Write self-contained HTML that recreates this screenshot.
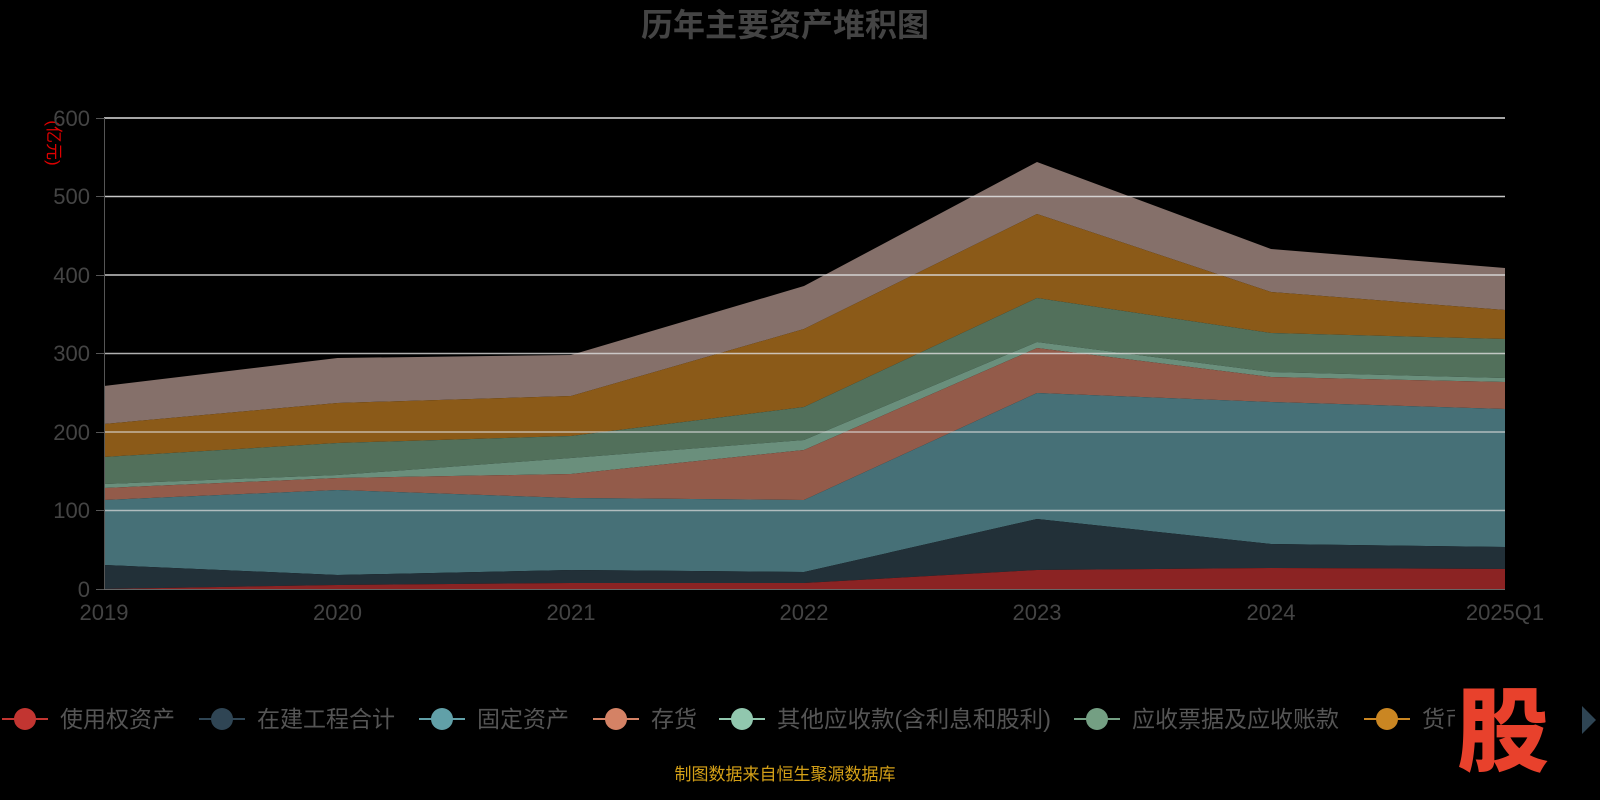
<!DOCTYPE html>
<html><head><meta charset="utf-8"><style>
html,body{margin:0;padding:0;background:#000;}
svg{display:block;font-family:"Liberation Sans","Noto Sans CJK SC",sans-serif;}
</style></head><body>
<svg width="1600" height="800" viewBox="0 0 1600 800">
<rect width="1600" height="800" fill="#000"/>
<text x="785" y="36" text-anchor="middle" font-size="32" font-weight="bold" fill="#444">历年主要资产堆积图</text>
<text x="48" y="143" font-size="17" fill="#d00" transform="rotate(90 48 143)" text-anchor="middle">(亿元)</text>
<g>
<polygon fill="#85706A" points="104,386 337.5,358 571,355 804,286 1037,162 1271,249 1505,268 1505,310 1271,292 1037,214 804,329 571,396 337.5,403 104,424"/>
<polygon fill="#8B5A18" points="104,424 337.5,403 571,396 804,329 1037,214 1271,292 1505,310 1505,339 1271,333 1037,298 804,407 571,436 337.5,443 104,457"/>
<polygon fill="#52705B" points="104,457 337.5,443 571,436 804,407 1037,298 1271,333 1505,339 1505,378 1271,372 1037,342 804,440 571,458 337.5,475 104,484"/>
<polygon fill="#6A8F7C" points="104,484 337.5,475 571,458 804,440 1037,342 1271,372 1505,378 1505,382 1271,377 1037,348 804,450 571,474 337.5,478 104,488"/>
<polygon fill="#935B4A" points="104,488 337.5,478 571,474 804,450 1037,348 1271,377 1505,382 1505,409 1271,402 1037,393 804,500 571,498 337.5,490 104,500"/>
<polygon fill="#467077" points="104,500 337.5,490 571,498 804,500 1037,393 1271,402 1505,409 1505,547 1271,544 1037,519 804,572 571,570 337.5,575 104,565"/>
<polygon fill="#223038" points="104,565 337.5,575 571,570 804,572 1037,519 1271,544 1505,547 1505,569 1271,568 1037,570 804,583 571,583 337.5,585 104,589"/>
<polygon fill="#8B2323" points="104,589 337.5,585 571,583 804,583 1037,570 1271,568 1505,569 1505,589 104,589"/>
</g>
<g stroke="#ddd" stroke-width="1.5">
<line x1="104" y1="118" x2="1505" y2="118"/>
<line x1="104" y1="196.5" x2="1505" y2="196.5" opacity="0.9"/>
<line x1="104" y1="275" x2="1505" y2="275" opacity="0.9"/>
<line x1="104" y1="353.5" x2="1505" y2="353.5" opacity="0.8"/>
<line x1="104" y1="432" x2="1505" y2="432" opacity="0.7"/>
<line x1="104" y1="510.5" x2="1505" y2="510.5" opacity="0.7"/>
</g>
<g stroke="#555" stroke-width="1">
<line x1="104.5" y1="118" x2="104.5" y2="589"/>
<line x1="104" y1="589.5" x2="1505" y2="589.5" stroke="#666"/>
<line x1="96" y1="118.5" x2="104" y2="118.5"/><line x1="96" y1="196.5" x2="104" y2="196.5"/>
<line x1="96" y1="275.5" x2="104" y2="275.5"/><line x1="96" y1="353.5" x2="104" y2="353.5"/>
<line x1="96" y1="432.5" x2="104" y2="432.5"/><line x1="96" y1="510.5" x2="104" y2="510.5"/>
<line x1="96" y1="589.5" x2="104" y2="589.5"/>
</g>
<g font-size="22" fill="#444" text-anchor="end">
<text x="90" y="126">600</text><text x="90" y="204">500</text><text x="90" y="283">400</text>
<text x="90" y="361">300</text><text x="90" y="440">200</text><text x="90" y="518">100</text><text x="90" y="597">0</text>
</g>
<g font-size="22" fill="#444" text-anchor="middle">
<text x="104" y="620">2019</text><text x="337.5" y="620">2020</text><text x="571" y="620">2021</text>
<text x="804" y="620">2022</text><text x="1037" y="620">2023</text><text x="1271" y="620">2024</text><text x="1505" y="620">2025Q1</text>
</g>
<g font-size="23" fill="#555">
<line x1="2" y1="719" x2="48" y2="719" stroke="#c23531" stroke-width="2"/><circle cx="25" cy="719" r="11" fill="#c23531"/>
<text x="60" y="727">使用权资产</text>
<line x1="199" y1="719" x2="245" y2="719" stroke="#2f4554" stroke-width="2"/><circle cx="222" cy="719" r="11" fill="#2f4554"/>
<text x="257" y="727">在建工程合计</text>
<line x1="419" y1="719" x2="465" y2="719" stroke="#61a0a8" stroke-width="2"/><circle cx="442" cy="719" r="11" fill="#61a0a8"/>
<text x="477" y="727">固定资产</text>
<line x1="593" y1="719" x2="639" y2="719" stroke="#d48265" stroke-width="2"/><circle cx="616" cy="719" r="11" fill="#d48265"/>
<text x="651" y="727">存货</text>
<line x1="719" y1="719" x2="765" y2="719" stroke="#91c7ae" stroke-width="2"/><circle cx="742" cy="719" r="11" fill="#91c7ae"/>
<text x="777" y="727" textLength="274" lengthAdjust="spacingAndGlyphs">其他应收款(含利息和股利)</text>
<line x1="1074" y1="719" x2="1120" y2="719" stroke="#749f83" stroke-width="2"/><circle cx="1097" cy="719" r="11" fill="#749f83"/>
<text x="1132" y="727">应收票据及应收账款</text>
<line x1="1364" y1="719" x2="1410" y2="719" stroke="#ca8622" stroke-width="2"/><circle cx="1387" cy="719" r="11" fill="#ca8622"/>
<text x="1422" y="727">货币</text>
</g>
<rect x="1455" y="688" width="93" height="84" fill="#000"/>
<text x="1503" y="764" text-anchor="middle" font-size="92" font-weight="900" fill="#e8412c" font-family="'Noto Sans CJK SC',sans-serif">股</text>
<polygon points="1582,706 1596,720 1582,734" fill="#2f4554"/>
<text x="785" y="780" text-anchor="middle" font-size="17" fill="#d4a017">制图数据来自恒生聚源数据库</text>
</svg>
</body></html>
